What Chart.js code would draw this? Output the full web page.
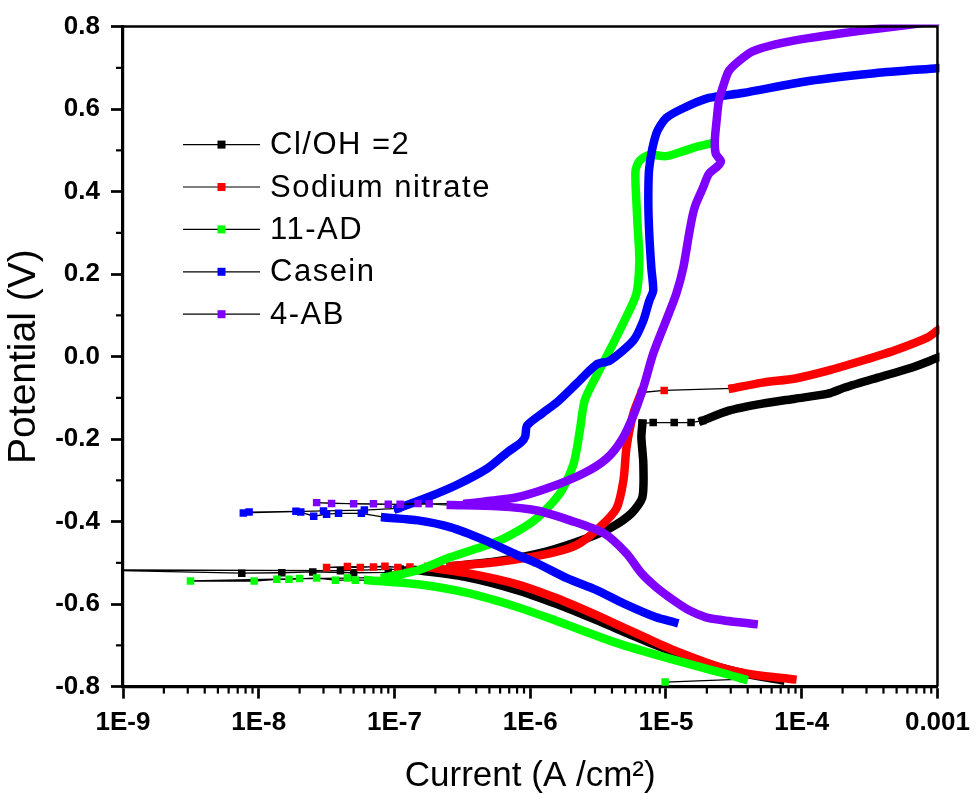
<!DOCTYPE html>
<html>
<head>
<meta charset="utf-8">
<script src="https://cdn.jsdelivr.net/npm/chart.js@4.4.0/dist/chart.umd.min.js"></script>
<style>
html,body{margin:0;padding:0;background:#fff;}
canvas{display:block;}
</style>
</head>
<body>
<canvas id="c" width="979" height="794"></canvas>
<script>
// ---------- data ----------
const seriesNames = ['Cl/OH =2', 'Sodium nitrate', '11-AD', 'Casein', '4-AB'];

const xTickValues = [1e-9, 1e-8, 1e-7, 1e-6, 1e-5, 1e-4, 1e-3];
const xTickLabels = ['1E-9', '1E-8', '1E-7', '1E-6', '1E-5', '1E-4', '0.001'];
const yTickValues = [-0.8, -0.6, -0.4, -0.2, 0, 0.2, 0.4, 0.6, 0.8];
const yTickLabels = ['-0.8', '-0.6', '-0.4', '-0.2', '0.0', '0.2', '0.4', '0.6', '0.8'];

// Cl/OH =2 : dense branches (null = break) and sparse points
const clohBandI = [6.97e-5, 3.86e-5, 1.66e-5, 7.16e-6, 3.08e-6, 1.57e-6, 8.0e-7, 3.45e-7, 1.49e-7, null,
  2.6e-7, 5.73e-7, 1.33e-6, 2.74e-6, 3.97e-6, 5.56e-6, 6.70e-6, 6.81e-6, 6.59e-6, 6.70e-6, null,
  1.87e-5, 2.90e-5, 5.14e-5, 8.97e-5, 1.56e-4, 2.08e-4, 3.63e-4, 6.43e-4, 1e-3];
const clohBandE = [-0.784, -0.769, -0.736, -0.690, -0.639, -0.600, -0.566, -0.535, -0.518, null,
  -0.508, -0.496, -0.472, -0.438, -0.414, -0.380, -0.341, -0.259, -0.196, -0.162, null,
  -0.155, -0.131, -0.114, -0.102, -0.090, -0.075, -0.051, -0.027, -0.003];
const clohDotI = [1.49e-7, 9e-8, 5e-8, 2.5e-8, 1.48e-8, 7.5e-9, 5e-10, 4e-8, 1.1e-7, 2.6e-7, null,
  6.70e-6, 8.05e-6, 1.15e-5, 1.53e-5, 1.87e-5];
const clohDotE = [-0.518, -0.523, -0.524, -0.522, -0.524, -0.525, -0.517, -0.519, -0.515, -0.508, null,
  -0.162, -0.160, -0.160, -0.160, -0.155];

// Sodium nitrate
const nitrBandI = [8.53e-5, 4.57e-5, 2.62e-5, 1.19e-5, 7.16e-6, 3.08e-6, 1.57e-6, 8.0e-7, 3.45e-7, 1.76e-7, null,
  2.6e-7, 5.73e-7, 1.40e-6, 2.20e-6, 3.24e-6, 4.32e-6, 4.86e-6, 5.12e-6, 5.75e-6, 6.59e-6, null,
  3.10e-5, 5.14e-5, 8.97e-5, 1.56e-4, 2.77e-4, 4.83e-4, 8.41e-4, 1e-3];
const nitrBandE = [-0.782, -0.772, -0.755, -0.714, -0.682, -0.627, -0.586, -0.552, -0.525, -0.511, null,
  -0.508, -0.498, -0.477, -0.457, -0.414, -0.368, -0.300, -0.220, -0.138, -0.087, null,
  -0.077, -0.063, -0.053, -0.034, -0.010, 0.015, 0.046, 0.063];
const nitrDotI = [1.76e-7, 1.06e-7, 8.5e-8, 5.6e-8, 3.16e-8, 4.5e-8, 7e-8, 1.3e-7, 2.6e-7, null,
  6.59e-6, 9.7e-6, 3.10e-5];
const nitrDotE = [-0.511, -0.511, -0.508, -0.511, -0.511, -0.509, -0.510, -0.510, -0.508, null,
  -0.087, -0.082, -0.077];

// 11-AD
const adBandI = [3.73e-5, 2.62e-5, 1.66e-5, 8.47e-6, 4.32e-6, 1.57e-6, 8.0e-7, 3.45e-7, 1.49e-7, 6.41e-8, null,
  8.53e-8, 1.49e-7, 2.6e-7, 6.03e-7, 1.07e-6, 1.66e-6, 2.09e-6, 2.32e-6, 2.52e-6, 3.08e-6, 3.85e-6,
  4.94e-6, 6.05e-6, 6.37e-6, 6.21e-6, 6.05e-6, 5.96e-6, 6.37e-6, 7.53e-6, 1.00e-5, 1.34e-5, 1.66e-5, 2.04e-5];
const adBandE = [-0.782, -0.767, -0.750, -0.723, -0.694, -0.641, -0.607, -0.573, -0.552, -0.542, null,
  -0.535, -0.518, -0.486, -0.445, -0.397, -0.331, -0.259, -0.179, -0.106, -0.046, 0.015,
  0.087, 0.152, 0.232, 0.305, 0.377, 0.450, 0.474, 0.489, 0.486, 0.498, 0.508, 0.515];
const adDotI = [9.86e-6, 3.73e-5, null,
  6.41e-8, 5.15e-8, 3.67e-8, 2.67e-8, 1.67e-8, 1.36e-8, 9.25e-9, 3.14e-9, 2e-8, 4.5e-8, 8.53e-8];
const adDotE = [-0.789, -0.782, null,
  -0.542, -0.542, -0.542, -0.537, -0.540, -0.540, -0.544, -0.544, -0.538, -0.537, -0.535];

// Casein
const casBandI = [1.15e-5, 8.47e-6, 4.86e-6, 3.08e-6, 1.86e-6, 1.12e-6, 8.0e-7, 4.60e-7, 2.6e-7, 1.49e-7, 8.53e-8, null,
  1.06e-7, 1.76e-7, 2.92e-7, 4.84e-7, 6.78e-7, 8.57e-7, 9.18e-7, 9.48e-7, 1.22e-6, 1.57e-6, 2.20e-6,
  3.08e-6, 3.85e-6, 5.75e-6, 6.81e-6, 7.53e-6, 8.05e-6, 7.80e-6, 7.53e-6, 7.41e-6, 7.53e-6, 8.47e-6,
  1.00e-5, 1.34e-5, 2.07e-5, 3.67e-5, 1.12e-4, 3.45e-4, 1e-3];
const casBandE = [-0.644, -0.632, -0.598, -0.566, -0.537, -0.501, -0.481, -0.445, -0.414, -0.397, -0.390, null,
  -0.368, -0.341, -0.310, -0.271, -0.232, -0.208, -0.194, -0.167, -0.138, -0.111, -0.065,
  -0.019, -0.010, 0.039, 0.087, 0.135, 0.160, 0.215, 0.298, 0.377, 0.457, 0.540,
  0.578, 0.602, 0.627, 0.639, 0.668, 0.687, 0.699];
const casDotI = [8.53e-8, 5.7e-8, 3.87e-8, 3.16e-8, 2.54e-8, 2.04e-8, 1.88e-8, 8.49e-9, 7.7e-9, 3e-8, 6e-8, 1.06e-7];
const casDotE = [-0.390, -0.380, -0.380, -0.382, -0.387, -0.377, -0.375, -0.377, -0.379, -0.374, -0.372, -0.368];

// 4-AB
const abBandI = [4.42e-5, 3.43e-5, 2.62e-5, 1.97e-5, 1.48e-5, 1.13e-5, 8.47e-6, 6.59e-6, 5.12e-6, 3.48e-6, 1.96e-6, 1.12e-6, 5.73e-7, 2.6e-7, null,
  3.45e-7, 8.0e-7, 1.40e-6, 2.48e-6, 3.66e-6, 4.70e-6, 5.75e-6, 6.81e-6, 8.05e-6, 1.00e-5, 1.19e-5,
  1.34e-5, 1.48e-5, 1.58e-5, 1.66e-5, 1.87e-5, 2.07e-5, 2.41e-5, 2.54e-5, 2.33e-5, 2.29e-5, 2.37e-5,
  2.45e-5, 2.67e-5, 2.90e-5, 3.43e-5, 4.34e-5, 6.40e-5, 1.12e-4, 1.98e-4, 3.45e-4, 6.01e-4, 1e-3];
const abBandE = [-0.648, -0.644, -0.639, -0.632, -0.615, -0.590, -0.559, -0.525, -0.477, -0.428, -0.397, -0.373, -0.363, -0.360, null,
  -0.356, -0.341, -0.317, -0.283, -0.247, -0.203, -0.143, -0.075, 0.007, 0.087, 0.152,
  0.215, 0.298, 0.346, 0.370, 0.409, 0.443, 0.462, 0.474, 0.491, 0.523, 0.578,
  0.619, 0.661, 0.692, 0.716, 0.740, 0.757, 0.772, 0.784, 0.794, 0.804, 0.813];
const abDotI = [2.6e-7, 1.49e-7, 1.1e-7, 7e-8, 3.44e-8, 2.67e-8, 5e-8, 9e-8, 1.8e-7, 3.45e-7];
const abDotE = [-0.360, -0.356, -0.358, -0.357, -0.356, -0.354, -0.357, -0.358, -0.357, -0.356];

// ---------- styles ----------
const seriesColors = ['#000000', '#ff0000', '#00ff00', '#0000ff', '#8000ff'];
const FONT = '"Liberation Sans", Arial, Helvetica, sans-serif';

function toPoints(I, E) {
  return I.map((v, i) => (v === null ? {x: null, y: null} : {x: v, y: E[i]}));
}

const bands = [[clohBandI, clohBandE], [nitrBandI, nitrBandE], [adBandI, adBandE], [casBandI, casBandE], [abBandI, abBandE]];
const dots = [[clohDotI, clohDotE], [nitrDotI, nitrDotE], [adDotI, adDotE], [casDotI, casDotE], [abDotI, abDotE]];
const drawOrder = [5, 4, 3, 2, 1];

const datasets = [];
seriesNames.forEach((name, s) => {
  datasets.push({
    label: name,
    data: toPoints(bands[s][0], bands[s][1]),
    showLine: true,
    borderColor: seriesColors[s],
    backgroundColor: seriesColors[s],
    borderWidth: 8.5,
    borderCapStyle: 'square',
    borderJoinStyle: 'round',
    pointRadius: 0,
    tension: 0.25,
    spanGaps: false,
    order: drawOrder[s],
    clip: 2
  });
  datasets.push({
    label: name + ' (points)',
    data: toPoints(dots[s][0], dots[s][1]),
    showLine: true,
    borderColor: '#000000',
    borderWidth: 1.3,
    pointStyle: 'rect',
    pointRadius: 5.3,
    pointBackgroundColor: seriesColors[s],
    pointBorderWidth: 0,
    tension: 0,
    spanGaps: false,
    order: drawOrder[s],
    clip: 2
  });
});

// minor ticks + frame
const framePlugin = {
  id: 'frameMinor',
  afterDraw(chart) {
    const {ctx, chartArea: a, scales: {x, y}} = chart;
    ctx.save();
    ctx.strokeStyle = '#000';
    ctx.lineWidth = 2.2;
    for (let d = -9; d < -3; d++) {
      for (let k = 2; k <= 9; k++) {
        const px = x.getPixelForValue(k * Math.pow(10, d));
        ctx.beginPath(); ctx.moveTo(px, a.bottom); ctx.lineTo(px, a.bottom + 7); ctx.stroke();
      }
    }
    for (let k = -7; k <= 7; k += 2) {
      const py = y.getPixelForValue(k / 10);
      ctx.beginPath(); ctx.moveTo(a.left - 7, py); ctx.lineTo(a.left, py); ctx.stroke();
    }
    ctx.lineWidth = 2.5;
    ctx.beginPath();
    ctx.moveTo(a.left, a.top); ctx.lineTo(a.right, a.top); ctx.lineTo(a.right, a.bottom);
    ctx.stroke();
    ctx.restore();
  }
};

// legend inside the plot
const legendPlugin = {
  id: 'insideLegend',
  afterDraw(chart) {
    const {ctx, chartArea: a} = chart;
    ctx.save();
    ctx.font = '31px ' + FONT;
    ctx.textBaseline = 'middle';
    ctx.textAlign = 'left';
    try { ctx.letterSpacing = '1.5px'; } catch (e) {}
    seriesNames.forEach((name, i) => {
      const yy = a.top + 118 + i * 42.4;
      const x0 = a.left + 60;
      ctx.strokeStyle = '#000'; ctx.lineWidth = 1.2;
      ctx.beginPath(); ctx.moveTo(x0, yy); ctx.lineTo(x0 + 77, yy); ctx.stroke();
      ctx.fillStyle = seriesColors[i];
      ctx.fillRect(x0 + 38.5 - 4, yy - 4, 8, 8);
      ctx.fillStyle = '#000';
      ctx.fillText(name, x0 + 87, yy + 1);
    });
    ctx.restore();
  }
};

Chart.defaults.font.family = FONT;
Chart.defaults.color = '#000';

new Chart(document.getElementById('c'), {
  type: 'scatter',
  data: {datasets},
  options: {
    responsive: false,
    animation: false,
    devicePixelRatio: 1,
    layout: {padding: {top: 25.4, right: 36, bottom: 0, left: 0}},
    plugins: {legend: {display: false}, tooltip: {enabled: false}},
    scales: {
      x: {
        type: 'logarithmic',
        min: 1e-9, max: 1e-3,
        afterBuildTicks: (s) => { s.ticks = xTickValues.map(v => ({value: v})); },
        afterFit: (s) => { s.height = 107.4; },
        ticks: {
          autoSkip: false, maxRotation: 0, padding: 9,
          font: {size: 26, weight: 'bold'}, color: '#000',
          callback: (v) => xTickLabels[xTickValues.indexOf(v)]
        },
        grid: {display: true, drawOnChartArea: false, drawTicks: true, tickLength: 12, tickWidth: 2.7, tickColor: '#000'},
        border: {display: true, color: '#000', width: 3.2},
        title: {display: true, text: 'Current (A /cm²)', color: '#000', font: {size: 35, lineHeight: 1}, padding: {top: 0, bottom: 0}}
      },
      y: {
        type: 'linear',
        min: -0.8, max: 0.8,
        afterBuildTicks: (s) => { s.ticks = yTickValues.map(v => ({value: v})); },
        afterFit: (s) => { s.width = 123; },
        ticks: {
          autoSkip: false, padding: 11,
          font: {size: 26, weight: 'bold'}, color: '#000',
          callback: (v) => yTickLabels[yTickValues.findIndex(t => Math.abs(t - v) < 1e-9)]
        },
        grid: {display: true, drawOnChartArea: false, drawTicks: true, tickLength: 12, tickWidth: 2.7, tickColor: '#000'},
        border: {display: true, color: '#000', width: 3.2},
        title: {display: true, text: 'Potential (V)', color: '#000', font: {size: 39, lineHeight: 1}, padding: {top: 5, bottom: 0}}
      }
    }
  },
  plugins: [framePlugin, legendPlugin]
});
</script>
</body>
</html>
